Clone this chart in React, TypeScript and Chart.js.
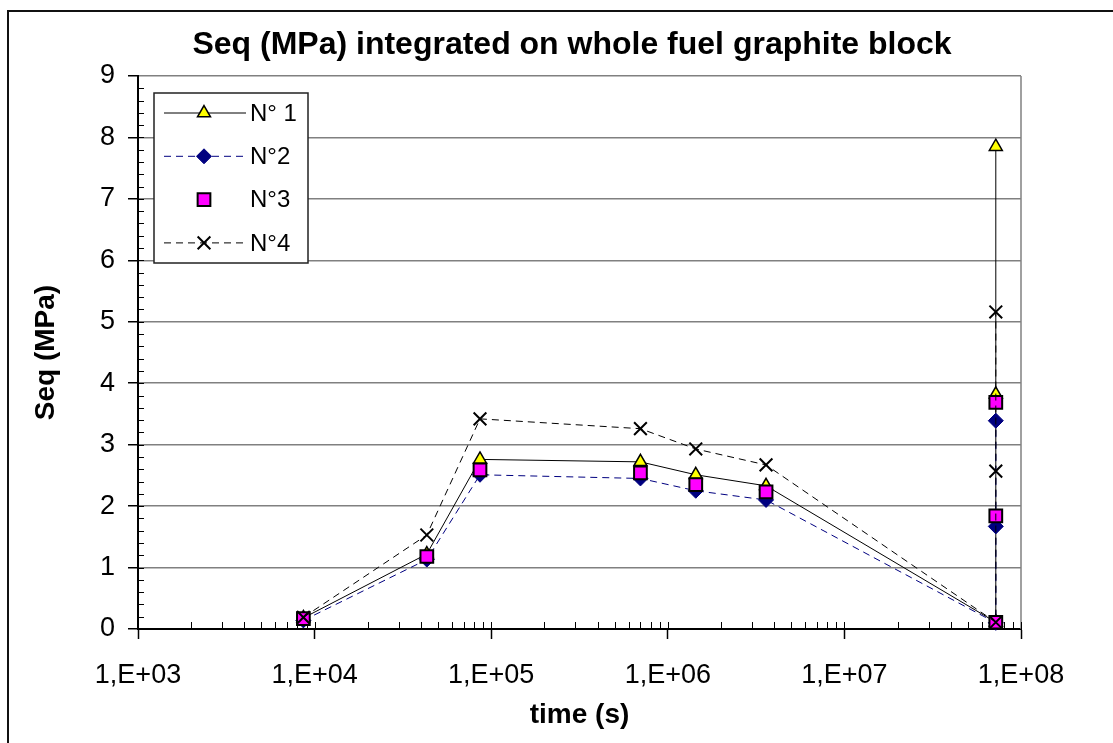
import React, { useEffect, useRef } from 'react';
import { Chart, registerables } from 'chart.js';
import { drawPoint } from 'chart.js/helpers';

Chart.register(...registerables);

// Time steps (s); the last three entries share the final time.
const times = [8640, 43200, 86400, 700000, 1440000, 3600000, 72000000, 72000000, 72000000];
const seriesN1 = [0.18, 1.22, 2.76, 2.72, 2.51, 2.33, 0.11, 3.82, 7.85];
const seriesN2 = [0.14, 1.13, 2.51, 2.45, 2.25, 2.1, 0.1, 1.67, 3.39];
const seriesN3 = [0.17, 1.18, 2.59, 2.54, 2.35, 2.23, 0.11, 1.84, 3.69];
const seriesN4 = [0.19, 1.53, 3.42, 3.26, 2.93, 2.67, 0.11, 2.57, 5.16];
const seriesLabels = ['N° 1', 'N°2', 'N°3', 'N°4'];
const xTickValues = [1e3, 1e4, 1e5, 1e6, 1e7, 1e8];
const xTickLabels = ['1,E+03', '1,E+04', '1,E+05', '1,E+06', '1,E+07', '1,E+08'];
const yMin = 0;
const yMax = 9;
const chartTitle = 'Seq (MPa) integrated on whole fuel graphite block';
const xTitle = 'time (s)';
const yTitle = 'Seq (MPa)';

const FONT = '"Liberation Sans", Arial, Helvetica, sans-serif';

const toPoints = (ys: number[]) => ys.map((y, i) => ({ x: times[i], y }));

// Outer frame, plot border, minor ticks, title and legend box.
const decorations = {
  id: 'decorations',
  beforeDraw(chart: any) {
    const { ctx, width, height } = chart;
    ctx.save();
    ctx.fillStyle = '#fff';
    ctx.fillRect(0, 0, width, height);
    ctx.strokeStyle = '#111';
    ctx.lineWidth = 2;
    ctx.beginPath();
    ctx.moveTo(8, height + 5);
    ctx.lineTo(8, 11);
    ctx.lineTo(width + 5, 11);
    ctx.stroke();
    ctx.restore();
  },
  beforeDatasetsDraw(chart: any) {
    const { ctx, chartArea } = chart;
    const xs = chart.scales.x;
    const ys = chart.scales.y;
    ctx.save();
    // right border of the plot
    ctx.strokeStyle = '#808080';
    ctx.lineWidth = 1.5;
    ctx.beginPath();
    ctx.moveTo(chartArea.right, chartArea.top);
    ctx.lineTo(chartArea.right, chartArea.bottom);
    ctx.stroke();
    // inner tick marks
    ctx.strokeStyle = '#000';
    ctx.lineWidth = 1;
    ctx.beginPath();
    for (let i = 0; i < (yMax - yMin) * 5; i++) {
      const py = Math.round(ys.getPixelForValue(yMin + i * 0.2)) + 0.5;
      ctx.moveTo(chartArea.left, py);
      ctx.lineTo(chartArea.left + 6, py);
    }
    for (let k = 3; k < 8; k++) {
      for (let m = 1; m <= 9; m++) {
        const px = Math.round(xs.getPixelForValue(m * Math.pow(10, k))) + 0.5;
        ctx.moveTo(px, chartArea.bottom);
        ctx.lineTo(px, chartArea.bottom - 7);
      }
    }
    const pr = Math.round(chartArea.right) + 0.5;
    ctx.moveTo(pr, chartArea.bottom);
    ctx.lineTo(pr, chartArea.bottom - 7);
    ctx.stroke();
    ctx.restore();
  },
  afterDraw(chart: any) {
    const { ctx } = chart;
    ctx.save();
    // chart title
    ctx.fillStyle = '#000';
    ctx.font = `bold 32px ${FONT}`;
    ctx.textAlign = 'center';
    ctx.textBaseline = 'middle';
    ctx.fillText(chartTitle, 572, 45);

    // legend
    const bx = 154, by = 93, bw = 154, bh = 170;
    ctx.fillStyle = '#fff';
    ctx.fillRect(bx, by, bw, bh);
    ctx.strokeStyle = '#222';
    ctx.lineWidth = 1.5;
    ctx.strokeRect(bx, by, bw, bh);
    chart.data.datasets.forEach((ds: any, i: number) => {
      const cy = by + 20 + i * 43.3;
      if (ds.showLine !== false) {
        ctx.save();
        ctx.strokeStyle = ds.borderColor;
        ctx.lineWidth = ds.borderWidth;
        ctx.setLineDash(ds.borderDash || []);
        ctx.beginPath();
        ctx.moveTo(164, cy);
        ctx.lineTo(246, cy);
        ctx.stroke();
        ctx.restore();
      }
      ctx.save();
      ctx.setLineDash([]);
      ctx.fillStyle = ds.pointBackgroundColor;
      ctx.strokeStyle = ds.pointBorderColor;
      ctx.lineWidth = ds.pointBorderWidth;
      drawPoint(ctx, { pointStyle: ds.pointStyle, rotation: 0, radius: ds.pointRadius, borderWidth: ds.pointBorderWidth }, 204, cy);
      ctx.restore();
      ctx.fillStyle = '#000';
      ctx.font = `24px ${FONT}`;
      ctx.textAlign = 'left';
      ctx.textBaseline = 'middle';
      ctx.fillText(ds.label, 250, cy + 1);
    });
    ctx.restore();
  },
};

export default function App() {
  const canvasRef = useRef<HTMLCanvasElement | null>(null);

  useEffect(() => {
    if (!canvasRef.current) return;
    const chart = new Chart(canvasRef.current, {
      type: 'line',
      data: {
        datasets: [
          {
            label: seriesLabels[0],
            data: toPoints(seriesN1),
            borderColor: '#000',
            borderWidth: 1,
            pointStyle: 'triangle',
            pointRadius: 7.5,
            pointBackgroundColor: '#FFFF00',
            pointBorderColor: '#000',
            pointBorderWidth: 1.5,
            order: 4,
          },
          {
            label: seriesLabels[1],
            data: toPoints(seriesN2),
            borderColor: '#000080',
            borderWidth: 1,
            borderDash: [7, 5],
            pointStyle: 'rectRot',
            pointRadius: 7.5,
            pointBackgroundColor: '#000080',
            pointBorderColor: '#000080',
            pointBorderWidth: 1,
            order: 3,
          },
          {
            label: seriesLabels[2],
            data: toPoints(seriesN3),
            showLine: false,
            borderColor: '#000',
            borderWidth: 0,
            pointStyle: 'rect',
            pointRadius: 9,
            pointBackgroundColor: '#FF00FF',
            pointBorderColor: '#000',
            pointBorderWidth: 2,
            order: 2,
          },
          {
            label: seriesLabels[3],
            data: toPoints(seriesN4),
            borderColor: '#000',
            borderWidth: 1,
            borderDash: [7, 5],
            pointStyle: 'crossRot',
            pointRadius: 9,
            pointBackgroundColor: '#000',
            pointBorderColor: '#000',
            pointBorderWidth: 2,
            order: 1,
          },
        ],
      },
      options: {
        responsive: false,
        devicePixelRatio: 1,
        animation: false,
        clip: false,
        layout: { padding: { left: 0, top: 76, right: 92, bottom: 0 } },
        plugins: {
          legend: { display: false },
          title: { display: false },
          tooltip: { enabled: false },
        },
        scales: {
          x: {
            type: 'logarithmic',
            min: xTickValues[0],
            max: xTickValues[xTickValues.length - 1],
            afterBuildTicks: (scale: any) => {
              scale.ticks = xTickValues.map((v) => ({ value: v }));
            },
            afterFit: (scale: any) => {
              scale.height = 114;
            },
            ticks: {
              autoSkip: false,
              maxRotation: 0,
              minRotation: 0,
              color: '#000',
              padding: 20,
              font: { size: 27, family: FONT },
              callback: (_v: any, i: number) => xTickLabels[i],
            },
            grid: {
              drawOnChartArea: false,
              drawTicks: true,
              tickLength: 10,
              tickColor: '#000',
              tickWidth: 1.5,
            },
            border: { color: '#000', width: 2 },
            title: {
              display: true,
              text: xTitle,
              color: '#000',
              font: { size: 28, weight: 'bold', family: FONT },
              padding: { top: 0, bottom: 11 },
            },
          },
          y: {
            type: 'linear',
            min: yMin,
            max: yMax,
            afterFit: (scale: any) => {
              scale.width = 138;
            },
            ticks: {
              stepSize: 1,
              color: '#000',
              padding: 13,
              font: { size: 27, family: FONT },
            },
            grid: {
              color: (c: any) => (c.tick && c.tick.value === 0 ? 'rgba(0,0,0,0)' : '#808080'),
              lineWidth: 1.5,
              drawTicks: true,
              tickLength: 10,
              tickColor: '#000',
              tickWidth: 1.5,
            },
            border: { color: '#000', width: 2 },
            title: {
              display: true,
              text: yTitle,
              color: '#000',
              font: { size: 28, weight: 'bold', family: FONT },
              padding: { top: 29, bottom: 0 },
            },
          },
        },
      },
      plugins: [decorations],
    } as any);
    return () => chart.destroy();
  }, []);

  return (
    <div style={{ position: 'absolute', left: 0, top: 0, width: 1113, height: 743, overflow: 'hidden' }}>
      <canvas ref={canvasRef} width={1113} height={743} style={{ display: 'block' }} />
    </div>
  );
}
